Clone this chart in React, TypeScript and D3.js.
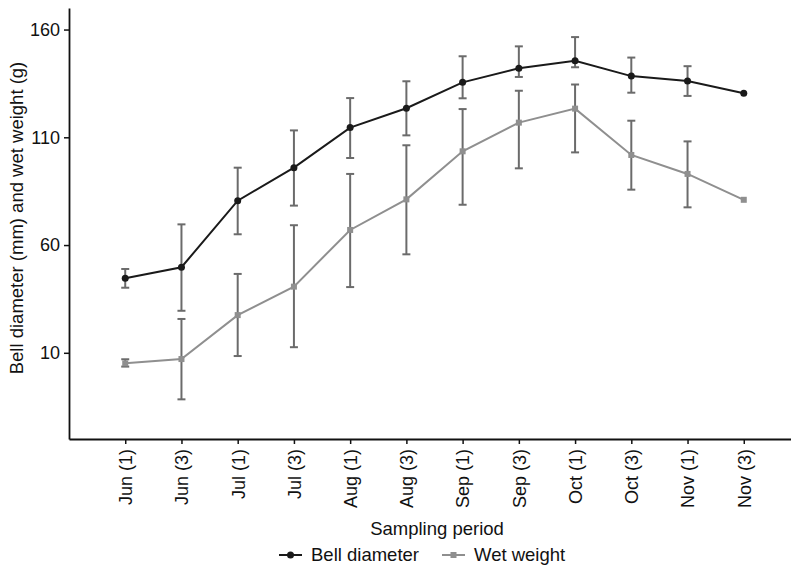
import React, {useRef, useEffect} from 'react';
import * as d3 from 'd3';

const periods = ['Jun (1)', 'Jun (3)', 'Jul (1)', 'Jul (3)', 'Aug (1)', 'Aug (3)', 'Sep (1)', 'Sep (3)', 'Oct (1)', 'Oct (3)', 'Nov (1)', 'Nov (3)'];
const yTicks = [10, 60, 110, 160];

// bell diameter (mm): mean and error bar ends
const bellMean = [44.6, 49.7, 80.6, 95.9, 114.5, 123.5, 135.5, 142, 145.5, 138.4, 136.1, 130.4];
const bellLow = [40.2, 29.5, 65, 78.3, 100.4, 110.9, 128.1, 138, 142.5, 130.7, 129.2, null];
const bellHigh = [48.9, 69.6, 95.9, 113.2, 128.2, 136, 147.6, 152.2, 156.5, 147, 143, null];

// wet weight (g)
const wetMean = [5.1, 7.1, 27.5, 40.7, 67, 81.2, 103.5, 116.8, 123.3, 101.8, 93, 81];
const wetLow = [3.6, -11.6, 8.5, 12.6, 40.5, 55.7, 78.7, 95.6, 103, 85.7, 77.5, null];
const wetHigh = [7, 25.7, 46.6, 69.2, 93, 106.3, 123.1, 131.6, 134.5, 117.7, 108.1, null];

const W = 791, H = 567;
const FONT = '"Liberation Sans", Arial, sans-serif';

export default function App() {
  const svgRef = useRef<SVGSVGElement | null>(null);

  useEffect(() => {
    if (svgRef.current === null) return;
    const svg = d3.select(svgRef.current);
    svg.selectAll('*').remove();

    const x = d3.scalePoint<string>().domain(periods).range([69, 800]).padding(1);
    const y = d3.scaleLinear().domain([-30, 170]).range([439, 8]);

    // y axis
    const yAxis = svg.append('g')
      .attr('transform', 'translate(69,0)')
      .call(d3.axisLeft(y).tickValues(yTicks).tickSize(5).tickPadding(4).tickSizeOuter(0));
    yAxis.select('.domain').attr('stroke', '#111').attr('stroke-width', 1.8);
    yAxis.selectAll('.tick line').attr('stroke', '#111').attr('stroke-width', 1.5);
    yAxis.selectAll('.tick text').attr('font-size', 18).attr('font-family', FONT).attr('fill', '#111');

    // x axis
    const xAxis = svg.append('g')
      .attr('transform', 'translate(0,439)')
      .call(d3.axisBottom(x).tickSize(5).tickSizeOuter(0));
    xAxis.select('.domain').attr('stroke', '#111').attr('stroke-width', 1.8);
    xAxis.selectAll('.tick line').attr('stroke', '#111').attr('stroke-width', 1.5);
    xAxis.selectAll('.tick text')
      .attr('font-size', 18)
      .attr('font-family', FONT)
      .attr('fill', '#111')
      .attr('transform', 'rotate(-90)')
      .attr('text-anchor', 'end')
      .attr('x', -10)
      .attr('y', 0)
      .attr('dy', '0.35em');

    // axis titles
    svg.append('text')
      .attr('x', 437).attr('y', 535)
      .attr('text-anchor', 'middle')
      .attr('font-size', 18.5).attr('font-family', FONT).attr('fill', '#111')
      .text('Sampling period');
    svg.append('text')
      .attr('transform', 'translate(23,218) rotate(-90)')
      .attr('text-anchor', 'middle')
      .attr('font-size', 18.5).attr('font-family', FONT).attr('fill', '#111')
      .text('Bell diameter (mm) and wet weight (g)');

    const series = [
      {mean: bellMean, low: bellLow, high: bellHigh, color: '#1a1a1a', marker: 'circle'},
      {mean: wetMean, low: wetLow, high: wetHigh, color: '#8f8f8f', marker: 'square'},
    ];

    const line = d3.line<number>()
      .x((d, i) => x(periods[i]) as number)
      .y(d => y(d));

    series.forEach(s => {
      svg.append('path')
        .datum(s.mean)
        .attr('d', line)
        .attr('fill', 'none')
        .attr('stroke', s.color)
        .attr('stroke-width', 2);
    });

    // error bars
    series.forEach(s => {
      const g = svg.append('g').attr('stroke', '#6b6b6b').attr('stroke-width', 2);
      s.mean.forEach((m, i) => {
        const lo = s.low[i], hi = s.high[i];
        if (lo === null || hi === null) return;
        const cx = x(periods[i]) as number;
        g.append('line').attr('x1', cx).attr('x2', cx).attr('y1', y(lo)).attr('y2', y(hi));
        g.append('line').attr('x1', cx - 4).attr('x2', cx + 4).attr('y1', y(lo)).attr('y2', y(lo));
        g.append('line').attr('x1', cx - 4).attr('x2', cx + 4).attr('y1', y(hi)).attr('y2', y(hi));
      });
    });

    // markers
    series.forEach(s => {
      s.mean.forEach((m, i) => {
        const cx = x(periods[i]) as number;
        if (s.marker === 'circle') {
          svg.append('circle').attr('cx', cx).attr('cy', y(m)).attr('r', 3.5).attr('fill', s.color);
        } else {
          svg.append('rect').attr('x', cx - 3).attr('y', y(m) - 3).attr('width', 6).attr('height', 6).attr('fill', s.color);
        }
      });
    });

    // legend
    const legend = [
      {label: 'Bell diameter', color: '#1a1a1a', marker: 'circle', x0: 279},
      {label: 'Wet weight', color: '#8f8f8f', marker: 'square', x0: 442},
    ];
    legend.forEach(l => {
      const g = svg.append('g').attr('transform', `translate(${l.x0},555)`);
      g.append('line').attr('x1', 0).attr('x2', 23).attr('stroke', l.color).attr('stroke-width', 2);
      if (l.marker === 'circle') g.append('circle').attr('cx', 11.5).attr('r', 3.5).attr('fill', l.color);
      else g.append('rect').attr('x', 8.5).attr('y', -3).attr('width', 6).attr('height', 6).attr('fill', l.color);
      g.append('text').attr('x', 32).attr('dy', '0.35em')
        .attr('font-size', 18.5).attr('font-family', FONT).attr('fill', '#111')
        .text(l.label);
    });
  }, []);

  return (
    <svg ref={svgRef} width={W} height={H}
      style={{position: 'absolute', left: 0, top: 0, background: '#fff'}} />
  );
}
